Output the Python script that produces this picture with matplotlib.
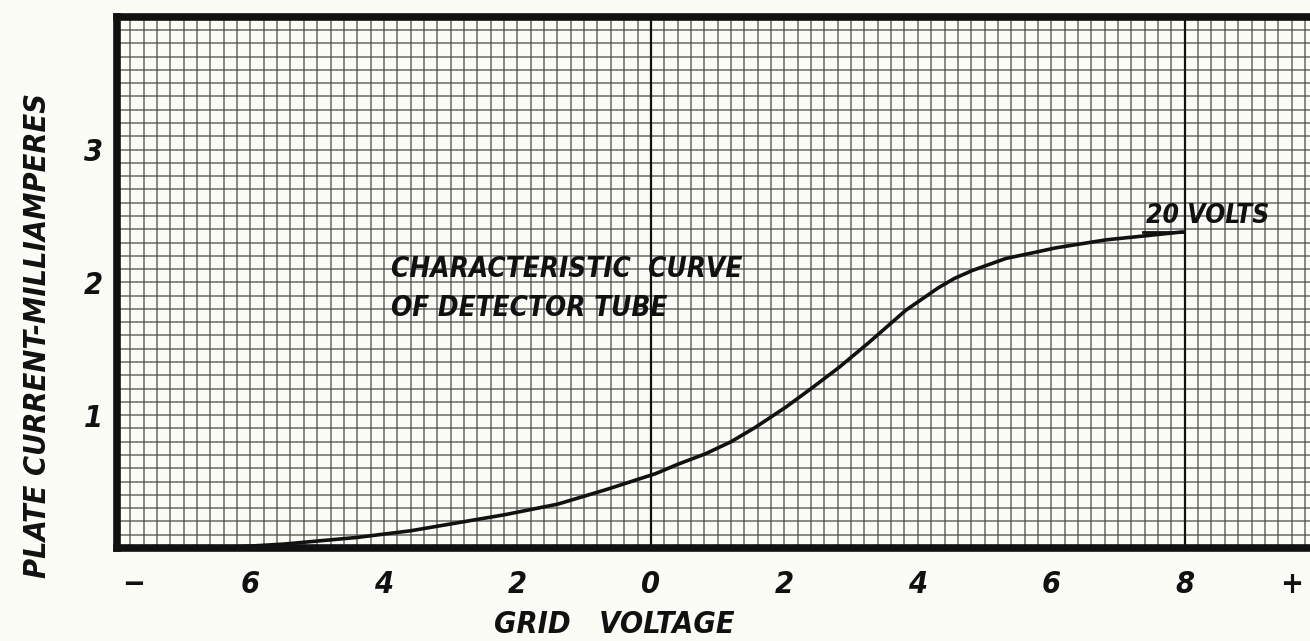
import numpy as np
import matplotlib.pyplot as plt

# Plate current vs. grid voltage, 20 V plate
grid_volts = [-6.5, -5.5, -4.4, -3.6, -2.9, -2.2, -1.4, -0.67, 0.07, 0.4, 0.82,
              1.2, 1.57, 2.02, 2.4, 2.82, 3.25, 3.82, 4.31, 4.55, 4.82, 5.32,
              5.7, 6.07, 6.82, 7.4, 7.97]
plate_ma = [0.0, 0.03, 0.08, 0.13, 0.19, 0.25, 0.33, 0.44, 0.56, 0.63, 0.71,
            0.8, 0.91, 1.06, 1.2, 1.36, 1.54, 1.79, 1.96, 2.03, 2.09, 2.18,
            2.22, 2.26, 2.32, 2.35, 2.38]

x_tick_pos = [-7.75, -6, -4, -2, 0, 2, 4, 6, 8, 9.6]
x_tick_labels = ['−', '6', '4', '2', '0', '2', '4', '6', '8', '+']
y_tick_pos = [1, 2, 3]
y_tick_labels = ['1', '2', '3']

paper = '#fcfcf6'
ink = '#111111'
hand = dict(family='DejaVu Sans', stretch='condensed',
            style='italic', weight='bold')

fig = plt.figure(figsize=(13.1, 6.41), dpi=100, facecolor=paper)
ax = fig.add_axes([0.0893, 0.145, 0.917, 0.829], facecolor=paper)
ax.set_xlim(-8, 10)
ax.set_ylim(0, 4)

# graph paper ruling: 0.2 V by 0.1 mA
for v in np.arange(-8, 10.01, 0.2):
    ax.axvline(v, color='#4a4a4a', lw=1.3, alpha=0.7, zorder=1)
for i in np.arange(0, 4.01, 0.1):
    ax.axhline(i, color='#4a4a4a', lw=1.3, alpha=0.7, zorder=1)
for v in [0, 8]:
    ax.axvline(v, color=ink, lw=1.6, zorder=2)

ax.plot(grid_volts, plate_ma, color=ink, lw=2.6, solid_capstyle='round',
        solid_joinstyle='round', zorder=4)
ax.plot([7.37, 7.97], [2.38, 2.38], color=ink, lw=2.0, zorder=4)

ax.text(7.42, 2.5, '20 VOLTS', fontsize=19, color=ink, va='center', ha='left',
        zorder=5, **hand)
ax.text(-3.9, 2.1, 'CHARACTERISTIC  CURVE', fontsize=20, color=ink,
        va='center', ha='left', zorder=5, **hand)
ax.text(-3.9, 1.81, 'OF DETECTOR TUBE', fontsize=20, color=ink,
        va='center', ha='left', zorder=5, **hand)

for side in ['left', 'top', 'bottom']:
    ax.spines[side].set_linewidth(5.5)
    ax.spines[side].set_color(ink)
ax.spines['right'].set_visible(False)

ax.set_xticks(x_tick_pos, labels=x_tick_labels)
ax.set_yticks(y_tick_pos, labels=y_tick_labels)
ax.tick_params(length=0)
ax.tick_params(axis='x', pad=16)
ax.tick_params(axis='y', pad=10)
for lab in ax.get_xticklabels() + ax.get_yticklabels():
    lab.set_fontsize(22)
    lab.set_color(ink)
    lab.set_fontstyle('italic')
    lab.set_fontweight('bold')
    lab.set_fontstretch('condensed')
    lab.set_family(hand['family'])

fig.text(0.469, 0.025, 'GRID   VOLTAGE', fontsize=22, color=ink,
         ha='center', va='center', **hand)
fig.text(0.029, 0.477, 'PLATE CURRENT-MILLIAMPERES', fontsize=22, color=ink,
         ha='center', va='center', rotation=90, **hand)

fig.savefig('out.png', dpi=100, facecolor=paper)
